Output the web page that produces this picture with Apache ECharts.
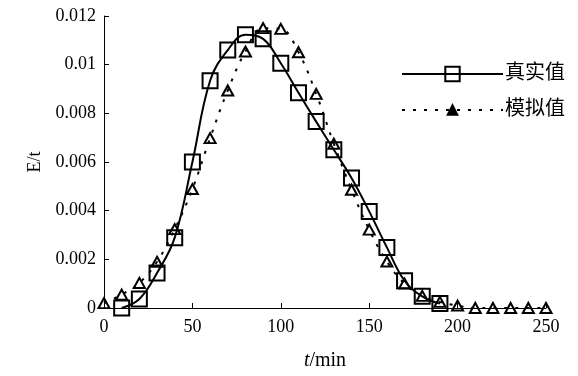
<!DOCTYPE html>
<html>
<head>
<meta charset="utf-8">
<script src="https://cdn.jsdelivr.net/npm/echarts@6/dist/echarts.min.js"></script>
<style>html,body{margin:0;padding:0;background:#fff}#c{width:578px;height:376px}</style>
</head>
<body>
<div id="c"></div>
<script>
const SERIF="'Liberation Serif','DejaVu Serif',serif";
const CJK="'Liberation Serif','Noto Sans CJK SC',serif";
const DARK='#000';

// real values (squares), t = 10..190
const realT=[10,20,30,40,50,60,70,80,90,100,110,120,130,140,150,160,170,180,190];
const realV=[0,0.00037,0.00144,0.00289,0.0060,0.00934,0.0106,0.01123,0.01106,0.01006,0.00885,0.00766,0.0065,0.00534,0.00397,0.00249,0.00112,0.00048,0.00018];
// simulated values (triangles), t = 0..250
const simT=[0,10,20,30,40,50,60,70,80,90,100,110,120,130,140,150,160,170,180,190,200,210,220,230,240,250];
const simV=[0.0002,0.00055,0.00103,0.0019,0.00324,0.00489,0.00698,0.00894,0.01054,0.0115,0.01147,0.01051,0.0088,0.00675,0.00486,0.00322,0.00191,0.001,0.0005,0.00025,0.0001,0,0,0,0,0];
const yTicks=['0','0.002','0.004','0.006','0.008','0.01','0.012'];

const pair=(xs,ys)=>xs.map((x,i)=>[x,ys[i]]);
const legText={fontFamily:CJK,fontSize:20,color:DARK,padding:[0,0,0,-3]};

const chart=echarts.init(document.getElementById('c'));
chart.setOption({
  animation:false,
  backgroundColor:'#fff',
  grid:{left:104,right:32,top:16,bottom:68},
  legend:[
    {left:401,top:64,padding:0,itemWidth:101,itemHeight:18,textStyle:legText,
      data:[{name:'真实值'}]},
    {left:401,top:100,padding:0,itemWidth:101,itemHeight:12,textStyle:legText,
      data:[{name:'模拟值',itemStyle:{color:DARK}}]},
  ],
  xAxis:{
    type:'value',min:0,max:250,interval:50,
    name:'{i|t}/min',nameLocation:'middle',nameGap:43,
    nameTextStyle:{fontFamily:SERIF,fontSize:20,color:DARK,rich:{i:{fontFamily:SERIF,fontStyle:'italic',fontSize:20,color:DARK}}},
    axisLine:{lineStyle:{color:DARK,width:1}},
    axisTick:{inside:true,length:5,lineStyle:{color:DARK}},
    axisLabel:{fontFamily:SERIF,fontSize:18,color:DARK,margin:10},
    splitLine:{show:false},
  },
  yAxis:{
    type:'value',min:0,max:0.012,interval:0.002,
    name:'E/t',nameLocation:'middle',nameGap:57,nameRotate:90,
    nameTextStyle:{fontFamily:SERIF,fontSize:18,color:DARK},
    axisLine:{show:true,lineStyle:{color:DARK,width:1}},
    axisTick:{show:true,inside:true,length:5,lineStyle:{color:DARK}},
    axisLabel:{fontFamily:SERIF,fontSize:18,color:DARK,margin:8,formatter:(v,i)=>yTicks[i]},
    splitLine:{show:false},
  },
  series:[
    {name:'真实值',type:'line',data:pair(realT,realV),smooth:0.4,
      symbol:'rect',symbolSize:15,
      lineStyle:{color:DARK,width:2},
      itemStyle:{color:'rgba(0,0,0,0)',borderColor:DARK,borderWidth:2},z:3},
    {name:'模拟值',type:'line',data:pair(simT,simV),smooth:0.4,
      symbol:'triangle',symbolSize:[11,10],
      lineStyle:{color:DARK,width:2,type:[3,8]},
      itemStyle:{color:'rgba(0,0,0,0)',borderColor:DARK,borderWidth:2},z:2},
  ],
});
</script>
</body>
</html>
